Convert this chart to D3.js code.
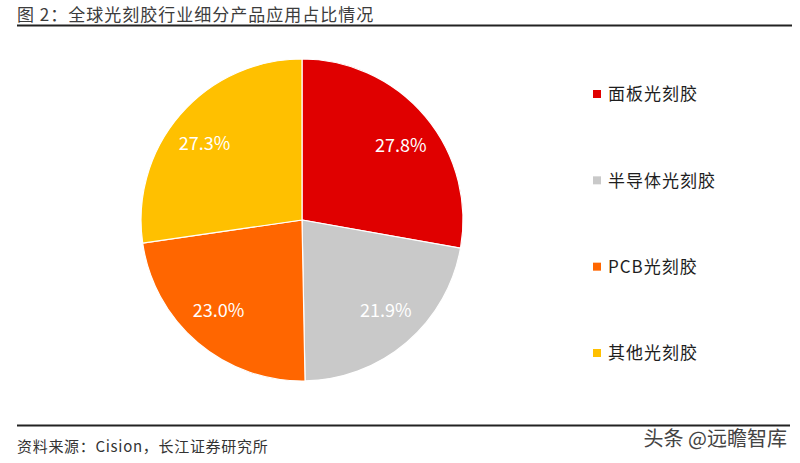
<!DOCTYPE html>
<html><head><meta charset="utf-8">
<script src="https://cdn.jsdelivr.net/npm/d3@7/dist/d3.min.js"></script>
<style>body{margin:0;background:#fff;} svg{display:block;}</style>
</head><body>
<svg id="c" width="800" height="463"></svg>
<script>
const categories = ["面板光刻胶", "半导体光刻胶", "PCB光刻胶", "其他光刻胶"];
const values = [27.8, 21.9, 23.0, 27.3];
const colors = ["#E00000", "#C9C9C9", "#FF6600", "#FFC000"];
const titleText = "图 2：全球光刻胶行业细分产品应用占比情况";
const sourceText = "资料来源：Cision，长江证券研究所";
const watermark = "头条 @远瞻智库";

const svg = d3.select("#c");
const font = "'Noto Sans CJK SC', 'Noto Sans', sans-serif";

// title
svg.append("text").attr("x", 17).attr("y", 21).attr("font-family", font).attr("font-size", 17)
  .attr("letter-spacing", 1).attr("fill", "#3c3c3c").text(titleText);
svg.append("line").attr("x1", 17).attr("x2", 792).attr("y1", 25.5).attr("y2", 25.5)
  .attr("stroke", "#222").attr("stroke-width", 2);

// pie
const cx = 302, cy = 220, R = 161;
const pie = d3.pie().sort(null).value(d => d)(values);
const arc = d3.arc().innerRadius(0).outerRadius(R);
const labelArc = d3.arc().innerRadius(124).outerRadius(124);
const g = svg.append("g").attr("transform", `translate(${cx},${cy})`);
g.selectAll("path").data(pie).join("path")
  .attr("d", arc).attr("fill", (d, i) => colors[i])
  .attr("stroke", "#fff").attr("stroke-width", 1.2);
g.selectAll("text").data(pie).join("text")
  .attr("transform", d => { const [x, y] = labelArc.centroid(d); return `translate(${x * 1.04},${y * 0.95 + 1})`; })
  .attr("text-anchor", "middle").attr("dy", "0.36em")
  .attr("font-family", font).attr("font-size", 18).attr("fill", "#fff")
  .text(d => d.data.toFixed(1) + "%");

// legend
const ly = d3.scalePoint().domain(categories).range([94, 353]);
const lg = svg.append("g");
categories.forEach((c, i) => {
  lg.append("rect").attr("x", 593).attr("y", ly(c) - 4).attr("width", 8).attr("height", 8).attr("fill", colors[i]);
  lg.append("text").attr("x", 608).attr("y", ly(c)).attr("dy", "0.37em")
    .attr("font-family", font).attr("font-size", 17).attr("letter-spacing", 1).attr("fill", "#1e1e1e").text(c);
});

// footer
svg.append("line").attr("x1", 17).attr("x2", 790).attr("y1", 425.5).attr("y2", 425.5)
  .attr("stroke", "#222").attr("stroke-width", 2);
svg.append("text").attr("x", 17).attr("y", 452).attr("font-family", font).attr("font-size", 15)
  .attr("letter-spacing", 0.7).attr("fill", "#333").text(sourceText);
svg.append("text").attr("x", 787).attr("y", 446).attr("text-anchor", "end").attr("font-family", font)
  .attr("font-size", 20).attr("fill", "#444").text(watermark);
</script>
</body></html>
